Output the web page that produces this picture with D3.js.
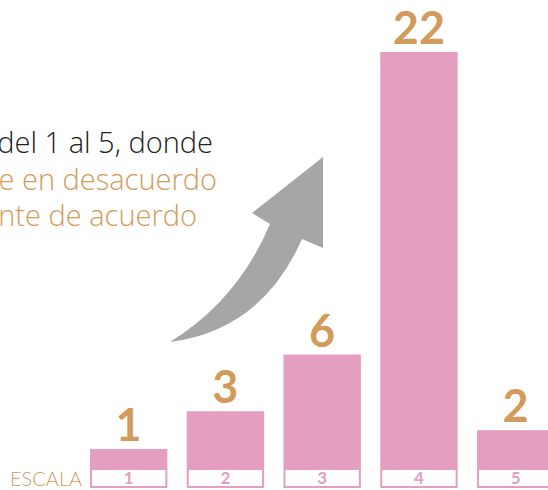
<!DOCTYPE html>
<html>
<head>
<meta charset="utf-8">
<script src="https://cdn.jsdelivr.net/npm/d3@7"></script>
<style>
  body { margin: 0; background: #fff; }
  svg { display: block; }
</style>
</head>
<body>
<script>
const categories = ["1", "2", "3", "4", "5"];
const counts = [1, 3, 6, 22, 2];
const introLines = ["del 1 al 5, donde", "e en desacuerdo", "nte de acuerdo"];
const scaleLabel = "ESCALA";

const width = 548;
const height = 490;
const pink = "#e39ec0";
const tan = "#d29b5c";

const svg = d3
  .select("body")
  .append("svg")
  .attr("width", width)
  .attr("height", height);

const baseline = 468;

const xScale = d3
  .scaleBand()
  .domain(categories)
  .range([80.3, 80.3 + 96.75 * 5])
  .paddingInner(0.2)
  .paddingOuter(0.1);

const yScale = d3
  .scaleLinear()
  .domain([0, d3.max(counts)])
  .range([baseline, 52]);

// intro text (cut off at the left edge)
const intro = svg.append("g").attr("font-family", "'Open Sans', sans-serif");
const introX = [213, 217, 197];
const introY = [153, 190, 226];
intro
  .selectAll("text")
  .data(introLines)
  .enter()
  .append("text")
  .attr("x", (d, i) => introX[i])
  .attr("y", (d, i) => introY[i])
  .attr("text-anchor", "end")
  .attr("font-size", 29)
  .attr("font-weight", 300)
  .attr("fill", (d, i) => (i === 0 ? "#222" : tan))
  .text((d) => d);

// curved arrow
svg
  .append("path")
  .attr(
    "d",
    "M170,342 Q238,300 270,224 L252,213 L323,157 L323,248 L302,239 Q262,330 170,342 Z"
  )
  .attr("fill", "#a6a6a6");

const groups = svg
  .append("g")
  .selectAll("g")
  .data(counts)
  .enter()
  .append("g")
  .attr("transform", (d, i) => `translate(${xScale(categories[i])} 0)`);

groups
  .append("rect")
  .attr("fill", pink)
  .attr("width", xScale.bandwidth())
  .attr("y", (d) => yScale(d))
  .attr("height", (d) => baseline - yScale(d));

groups
  .append("text")
  .attr("fill", tan)
  .attr("font-family", "Lato, sans-serif")
  .attr("font-weight", "bold")
  .attr("font-size", 45)
  .attr("text-anchor", "middle")
  .attr("x", xScale.bandwidth() / 2)
  .attr("y", (d) => yScale(d) - 8)
  .text((d) => d);

// scale boxes under the bars
groups
  .append("rect")
  .attr("x", 1)
  .attr("y", baseline + 1)
  .attr("width", xScale.bandwidth() - 2)
  .attr("height", 18)
  .attr("fill", "#fff")
  .attr("stroke", pink)
  .attr("stroke-width", 2);

groups
  .append("text")
  .attr("fill", pink)
  .attr("font-family", "Lato, sans-serif")
  .attr("font-weight", "bold")
  .attr("font-size", 17)
  .attr("text-anchor", "middle")
  .attr("x", xScale.bandwidth() / 2)
  .attr("y", baseline + 16)
  .text((d, i) => categories[i]);

svg
  .append("text")
  .attr("x", 10)
  .attr("y", 486)
  .attr("fill", tan)
  .attr("font-family", "Lato, sans-serif")
  .attr("font-weight", 300)
  .attr("font-size", 20)
  .text(scaleLabel);
</script>
</body>
</html>
